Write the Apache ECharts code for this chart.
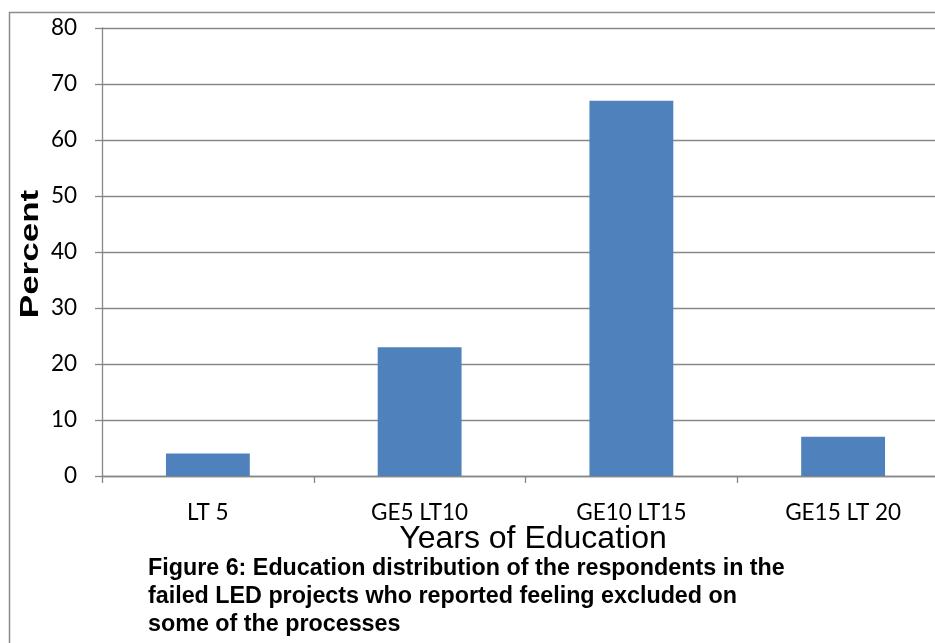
<!DOCTYPE html>
<html>
<head>
<meta charset="utf-8">
<script src="https://cdn.jsdelivr.net/npm/echarts@6/dist/echarts.min.js"></script>
<style>
  html, body { margin: 0; padding: 0; background: #ffffff; }
  #chart { width: 935px; height: 643px; }
</style>
</head>
<body>
<div id="chart"></div>
<script>
// Years-of-education groups and share of respondents (percent)
const categories = ['LT 5', 'GE5 LT10', 'GE10 LT15', 'GE15 LT 20'];
const percents = [4, 23, 67, 7];
const yTicks = { min: 0, max: 80, interval: 10 };

const axisGray = '#878787';
const chart = echarts.init(document.getElementById('chart'), null, { renderer: 'canvas' });

chart.setOption({
  animation: false,
  backgroundColor: '#ffffff',
  // the plot runs a little past the right edge of the canvas
  grid: { left: 102, top: 28, width: 847, height: 448, containLabel: false, outerBoundsMode: 'none' },
  xAxis: {
    type: 'category',
    data: categories,
    axisLine: { show: true, lineStyle: { color: axisGray, width: 1.3 } },
    axisTick: { show: true, length: 7, lineStyle: { color: axisGray, width: 1.3 } },
    axisLabel: { margin: 25, color: '#000000', fontFamily: 'Lato', fontSize: 22.5 },
    splitLine: { show: false }
  },
  yAxis: {
    type: 'value',
    min: yTicks.min,
    max: yTicks.max,
    interval: yTicks.interval,
    axisLine: { show: true, lineStyle: { color: axisGray, width: 1.3 } },
    axisTick: { show: true, length: 7, lineStyle: { color: axisGray, width: 1.3 } },
    axisLabel: { margin: 25, color: '#000000', fontFamily: 'Lato', fontSize: 22.5 },
    splitLine: { show: true, lineStyle: { color: axisGray, width: 1.3 } }
  },
  series: [{
    type: 'bar',
    data: percents,
    barWidth: '39.6%',
    itemStyle: { color: '#4F81BD' }
  }],
  graphic: [
    // frame around the figure
    {
      type: 'rect', left: 7, top: 10, silent: true,
      shape: { width: 1000, height: 700 },
      style: { fill: 'none', stroke: '#8c8c8c', lineWidth: 1.5 }
    },
    // y-axis title
    {
      type: 'text', x: 31, y: 254, rotation: Math.PI / 2, scaleX: 1.4, scaleY: 1,
      style: {
        text: 'Percent', fill: '#000000', font: 'bold 25px "Liberation Sans", Arial, sans-serif',
        align: 'center', verticalAlign: 'middle'
      }
    },
    // x-axis title
    {
      type: 'text', x: 533, y: 539,
      style: {
        text: 'Years of Education', fill: '#000000', font: '32px "Liberation Sans", Arial, sans-serif',
        align: 'center', verticalAlign: 'middle'
      }
    },
    // figure caption
    {
      type: 'text', x: 148, y: 555,
      style: {
        text: 'Figure 6: Education distribution of the respondents in the\nfailed LED projects who reported feeling excluded on\nsome of the processes',
        fill: '#000000', font: 'bold 23.3px "Liberation Sans", Arial, sans-serif',
        lineHeight: 28, align: 'left', verticalAlign: 'top'
      }
    }
  ]
});
</script>
</body>
</html>
